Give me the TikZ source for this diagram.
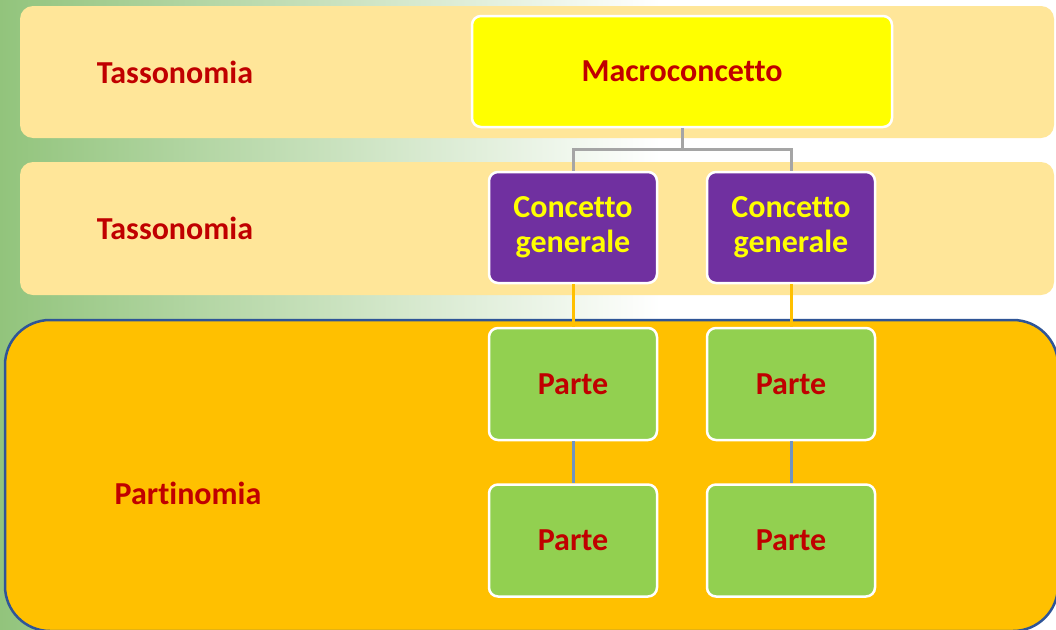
\documentclass[tikz,border=0pt]{standalone}
\usepackage{fontspec}
\setmainfont{Carlito}[Ligatures=NoCommon]
\definecolor{bggreen}{RGB}{146,196,124}
\definecolor{bandy}{RGB}{255,230,153}
\definecolor{bando}{RGB}{255,192,0}
\definecolor{bandline}{RGB}{47,85,151}
\definecolor{txtred}{RGB}{192,0,0}
\definecolor{macroy}{RGB}{255,255,0}
\definecolor{purp}{RGB}{112,48,160}
\definecolor{grn}{RGB}{146,208,80}
\definecolor{gline}{RGB}{165,165,165}
\definecolor{bline}{RGB}{112,148,192}
\tikzset{
  box/.style={draw=white, line width=2.5pt, rounded corners=9pt, align=center,
    font=\fontsize{32}{35}\selectfont\bfseries, inner sep=0pt},
  macrobox/.style={box, fill=macroy, text=txtred, minimum width=420, minimum height=111},
  genbox/.style={box, fill=purp, text=macroy, minimum width=168, minimum height=111},
  partbox/.style={box, fill=grn, text=txtred, minimum width=168, minimum height=112},
  lbl/.style={text=txtred, font=\fontsize{32}{35}\selectfont\bfseries, inner sep=0pt},
  band/.style={fill=bandy, rounded corners=13pt},
  conn/.style={line width=3pt},
}
\begin{document}
\begin{tikzpicture}[x=1pt, y=-1pt]
\useasboundingbox (0,0) rectangle (1056,629);
\clip (0,0) rectangle (1056,629);
% background
\fill[white] (0,0) rectangle (1056,629);
\shade[left color=bggreen, right color=white] (0,0) rectangle (660,629);
% bands
\fill[band] (20,6) rectangle (1054,138);
\fill[band] (20,162) rectangle (1054,295);
\filldraw[fill=bando, draw=bandline, line width=2.5pt, rounded corners=45pt] (5,320) rectangle (1058,631);
% labels
\node[lbl] (t1) at (175,72) {Tassonomia};
\node[lbl] (t2) at (175,228) {Tassonomia};
\node[lbl] (pt) at (188,493) {Partinomia};
% nodes
\node[macrobox] (macro) at (682,71.5) {Macroconcetto};
\node[genbox] (c1) at (573,227.5) {Concetto\\generale};
\node[genbox] (c2) at (791,227.5) {Concetto\\generale};
\node[partbox] (p1) at (573,384) {Parte};
\node[partbox] (p2) at (791,384) {Parte};
\node[partbox] (p3) at (573,540.5) {Parte};
\node[partbox] (p4) at (791,540.5) {Parte};
% connectors
\coordinate (j) at (682,149);
\draw[gline, conn] (macro.south) -- (j) -| (c1.north);
\draw[gline, conn] (j) -| (c2.north);
\draw[bando, conn] (c1.south) -- (p1.north);
\draw[bando, conn] (c2.south) -- (p2.north);
\draw[bline, conn] (p1.south) -- (p3.north);
\draw[bline, conn] (p2.south) -- (p4.north);
\end{tikzpicture}
\end{document}
